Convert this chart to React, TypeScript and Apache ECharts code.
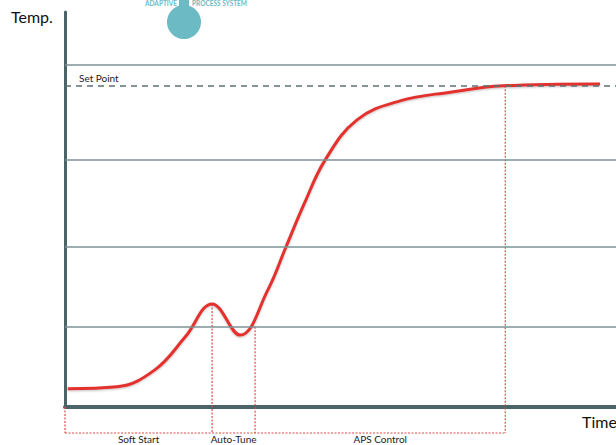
import React, { useEffect, useRef } from "react";
import * as echarts from "echarts";

// Process curve (time in % of span, temperature in % of scale)
const curveX = [0.5, 9.4, 16.3, 21.8, 26.7, 31.8, 36.8, 40.1, 43.4, 47.2, 53.0, 60.8, 69.9, 79.5, 97.1];
const curveY = [4.6, 5.1, 9.4, 17.7, 26.1, 18.2, 29.6, 40.5, 51.4, 62.5, 72.7, 77.5, 79.7, 81.3, 81.8];

const gridLevels = [20.3, 40.5, 62.5, 86.6];
const setPoint = 81.3;
const setPointLabel = "Set Point";

// Phase boundaries (x) and where each dotted marker starts (y)
const phaseBounds = [0, 26.7, 34.5, 79.9];
const phaseTops = [0, 26.1, 20.3, 81.3];
const phaseLabels = ["Soft Start", "Auto-Tune", "APS Control"];

const yAxisName = "Temp.";
const xAxisName = "Time";
const logoLeft = "ADAPTIVE";
const logoRight = "PROCESS SYSTEM";

export default function App() {
  const ref = useRef<HTMLDivElement>(null);
  useEffect(() => {
    document.body.style.margin = "0";
    if (!ref.current) return;
    const chart = echarts.init(ref.current, null, { renderer: "svg" });
    const teal = "#6cbac4";
    const axisColor = "#4b6468";
    const red = "#e3312f";
    const dotted = "#e04a4a";
    const font = "Lato";
    const below = 26;

    const labelData = phaseLabels.map((l, i) => [
      (phaseBounds[i] + phaseBounds[i + 1]) / 2,
      0,
      l,
    ]);

    chart.setOption({
      animation: false,
      grid: { left: 65, right: 0, top: 12, bottom: 38 },
      xAxis: {
        type: "value",
        min: 0,
        max: 100,
        axisLine: { show: true, lineStyle: { color: axisColor, width: 4 } },
        axisTick: { show: false },
        axisLabel: { show: false },
        splitLine: { show: false },
      },
      yAxis: {
        type: "value",
        min: 0,
        max: 100,
        axisLine: { show: true, lineStyle: { color: axisColor, width: 3 } },
        axisTick: { show: false },
        axisLabel: { show: false },
        splitLine: { show: false },
      },
      graphic: [
        {
          type: "text",
          left: 11,
          top: 8,
          style: { text: yAxisName, font: `16px ${font}`, fill: "#111" },
        },
        {
          type: "text",
          left: 582,
          top: 413,
          style: { text: xAxisName, font: `16px ${font}`, fill: "#111" },
        },
        {
          type: "circle",
          shape: { cx: 184, cy: 22, r: 17 },
          style: { fill: teal },
        },
        {
          type: "rect",
          shape: { x: 179, y: 0, width: 10, height: 12 },
          style: { fill: teal },
        },
        {
          type: "text",
          x: 177,
          y: 3,
          style: {
            text: logoLeft,
            font: `bold 6.5px ${font}`,
            fill: teal,
            align: "right",
            verticalAlign: "middle",
          },
        },
        {
          type: "text",
          x: 192,
          y: 3,
          style: {
            text: logoRight,
            font: `bold 6.5px ${font}`,
            fill: teal,
            align: "left",
            verticalAlign: "middle",
          },
        },
      ],
      series: [
        {
          type: "custom",
          z: 1,
          data: phaseBounds.map((x, i) => [x, phaseTops[i]]),
          renderItem: (params: any, api: any) => {
            const x = api.value(0);
            const top = api.value(1);
            const p = api.coord([x, top]);
            const base = api.coord([x, 0]);
            const children: any[] = [
              {
                type: "line",
                shape: { x1: p[0], y1: p[1], x2: p[0], y2: base[1] + below },
                style: { stroke: dotted, lineWidth: 1.2, lineDash: [2, 1.5] },
              },
            ];
            if (params.dataIndex === phaseBounds.length - 1) {
              const start = api.coord([phaseBounds[0], 0]);
              children.push({
                type: "line",
                shape: { x1: start[0], y1: base[1] + below, x2: p[0], y2: base[1] + below },
                style: { stroke: dotted, lineWidth: 1.2, lineDash: [2, 1.5] },
              });
            }
            return { type: "group", children };
          },
        },
        {
          type: "custom",
          z: 1,
          data: labelData,
          renderItem: (params: any, api: any) => {
            const p = api.coord([api.value(0), 0]);
            return {
              type: "text",
              x: p[0],
              y: p[1] + 32,
              style: {
                text: phaseLabels[params.dataIndex],
                font: `10px ${font}`,
                fill: "#222",
                align: "center",
                verticalAlign: "middle",
              },
            };
          },
        },
        {
          type: "line",
          z: 3,
          smooth: 0.4,
          symbol: "none",
          data: curveX.map((x, i) => [x, curveY[i]]),
          lineStyle: {
            color: red,
            width: 3,
            shadowColor: "rgba(0,0,0,0.25)",
            shadowBlur: 2,
            shadowOffsetY: 1,
          },
          markLine: {
            silent: true,
            symbol: "none",
            animation: false,
            data: [
              ...gridLevels.map((v) => ({
                yAxis: v,
                lineStyle: { color: "#7d9296", width: 1.5, type: "solid" },
                label: { show: false },
              })),
              {
                yAxis: setPoint,
                lineStyle: { color: "#5c7174", width: 1.5, type: [6, 5] },
                label: {
                  show: true,
                  formatter: setPointLabel,
                  position: "insideStartTop",
                  distance: [14, 3],
                  color: "#222",
                  fontFamily: font,
                  fontSize: 10,
                },
              },
            ],
          },
        },
      ],
    });
    return () => chart.dispose();
  }, []);
  return <div ref={ref} style={{ width: 616, height: 445 }} />;
}
